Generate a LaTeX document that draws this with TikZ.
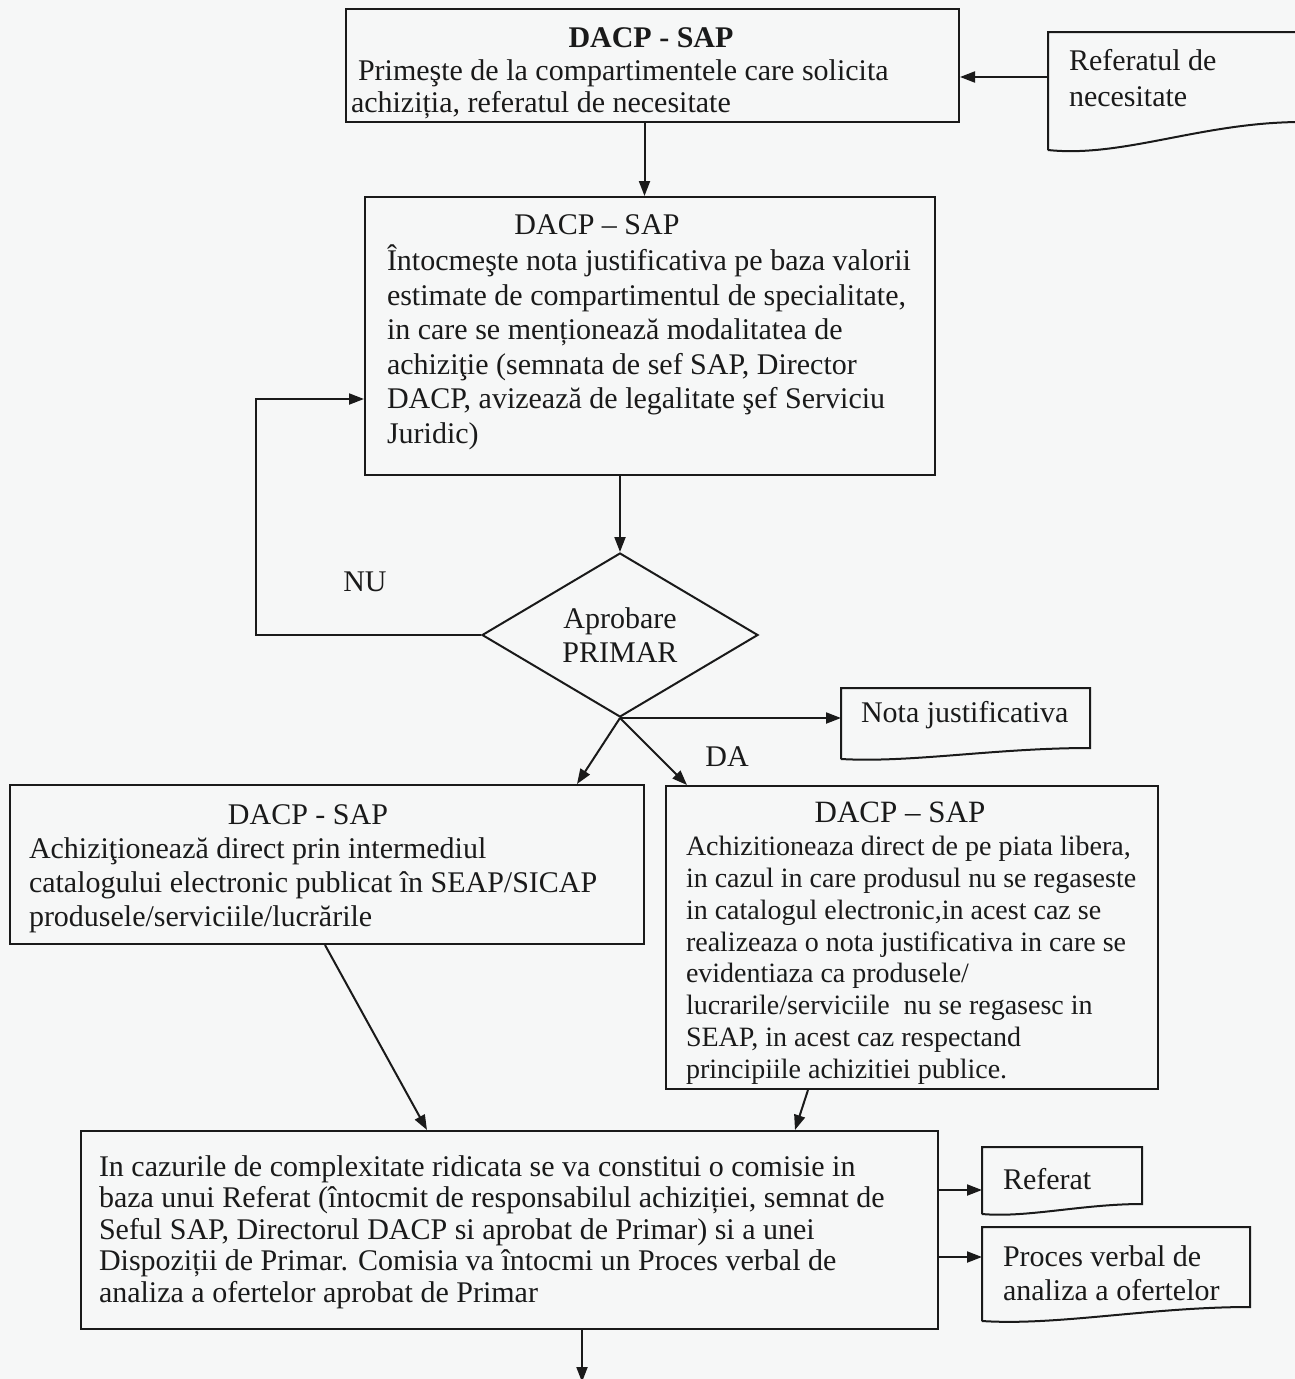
\documentclass[tikz,border=0pt]{standalone}
\usepackage{fontspec}
\setmainfont{Liberation Serif}
\usetikzlibrary{shapes.geometric,arrows.meta,calc}
\definecolor{ink}{HTML}{1A1A1A}
\definecolor{paper}{HTML}{F6F7F7}

\begin{document}
\begin{tikzpicture}[x=1pt,y=-1pt,color=ink,line width=2pt,
  box/.style={draw,rectangle,inner sep=0pt,anchor=north west},
  doc/.style={rectangle,inner sep=0pt,anchor=north west},
  txt/.style={anchor=north west,inner sep=0pt,align=left,font=\fontsize{30}{34.5}\selectfont},
  ttl/.style={anchor=north,inner sep=0pt,font=\fontsize{30}{34.5}\selectfont},
  lbl/.style={inner sep=0pt,font=\fontsize{30}{34}\selectfont},
  arr/.style={-{Triangle[length=15pt,width=11pt]}}]

% page
\fill[paper] (0,0) rectangle (1295,1379);
\useasboundingbox (0,0) rectangle (1295,1379);

% ---------- request received ----------
\node[box,minimum width=613pt,minimum height=113pt] (recv) at (345,8) {};
\node[ttl,font=\bfseries\fontsize{30}{34.5}\selectfont] (recvttl) at (651,22) {\strut DACP - SAP};
\node[txt,font=\fontsize{30}{32}\selectfont] (recvtxt) at (350,57)
  {\strut\hspace{7pt}Primeşte de la compartimentele care solicita\\
   \strut achiziția, referatul de necesitate};

% incoming document
\node[doc,minimum width=252pt,minimum height=116pt] (refn) at (1048,32) {};
\draw (refn.south west) -- (refn.north west) -- (refn.north east)
  -- ([yshift=28pt]refn.south east)
  .. controls +(-100pt,0pt) and +(75pt,-8pt) .. (refn.south west);
\node[txt,font=\fontsize{30}{36}\selectfont] (refntxt) at (1068,44)
  {\strut Referatul de\\\strut necesitate};

% ---------- justification note ----------
\node[box,minimum width=570pt,minimum height=278pt] (just) at (364,196) {};
\node[ttl] (justttl) at (597,209) {\strut DACP – SAP};
\node[txt] (justtxt) at (386,244)
  {\strut Întocmeşte nota justificativa pe baza valorii\\
   \strut estimate de compartimentul de specialitate,\\
   \strut in care se menționează modalitatea de\\
   \strut achiziţie (semnata de sef SAP, Director\\
   \strut DACP, avizează de legalitate şef Serviciu\\
   \strut Juridic)};

% ---------- approval ----------
\node[diamond,draw,minimum width=276pt,minimum height=164pt,inner sep=0pt] (appr) at (620,635) {};
\node[lbl,align=center,font=\fontsize{30}{34}\selectfont] (apprtxt) at (620,639)
  {\strut Aprobare\\\strut PRIMAR};
\node[lbl] (nu) at (365,582) {NU};
\node[lbl] (da) at (727,757) {DA};

% output document of the approval
\node[doc,minimum width=247pt,minimum height=69pt] (nota) at (841,688) {};
\draw (nota.south west) -- (nota.north west) -- (nota.north east)
  -- ([yshift=11pt]nota.south east)
  .. controls +(-95pt,0pt) and +(70pt,-4pt) .. (nota.south west);
\node[txt] (notatxt) at (860,697) {\strut Nota justificativa};

% ---------- direct purchase from catalogue ----------
\node[box,minimum width=634pt,minimum height=159pt] (cat) at (9,784) {};
\node[ttl] (catttl) at (308,799) {\strut DACP - SAP};
\node[txt,font=\fontsize{30}{34}\selectfont] (cattxt) at (28,834)
  {\strut Achiziţionează direct prin intermediul\\
   \strut catalogului electronic publicat în SEAP/SICAP\\
   \strut produsele/serviciile/lucrările};

% ---------- direct purchase on the free market ----------
\node[box,minimum width=492pt,minimum height=303pt] (mkt) at (665,785) {};
\node[ttl,font=\fontsize{31}{35}\selectfont] (mktttl) at (900,797) {\strut DACP – SAP};
\node[txt,font=\fontsize{28}{31.8}\selectfont] (mkttxt) at (685,832.5)
  {\strut Achizitioneaza direct de pe piata libera,\\
   \strut in cazul in care produsul nu se regaseste\\
   \strut in catalogul electronic,in acest caz se\\
   \strut realizeaza o nota justificativa in care se\\
   \strut evidentiaza ca produsele/\\
   \strut lucrarile/serviciile\ \ nu se regasesc in\\
   \strut SEAP, in acest caz respectand\\
   \strut principiile achizitiei publice.};

% ---------- evaluation committee ----------
\node[box,minimum width=857pt,minimum height=198pt] (comm) at (80,1130) {};
\node[txt,font=\fontsize{30}{31.5}\selectfont] (commtxt) at (98,1153)
  {\strut In cazurile de complexitate ridicata se va constitui o comisie in\\
   \strut baza unui Referat (întocmit de responsabilul achiziției, semnat de\\
   \strut Seful SAP, Directorul DACP si aprobat de Primar) si a unei\\
   \strut Dispoziții de Primar. Comisia va întocmi un Proces verbal de\\
   \strut analiza a ofertelor aprobat de Primar};

% output documents of the committee
\node[doc,minimum width=158pt,minimum height=65pt] (refr) at (982,1147) {};
\draw (refr.south west) -- (refr.north west) -- (refr.north east)
  -- ([yshift=10pt]refr.south east)
  .. controls +(-60pt,0pt) and +(45pt,-4pt) .. (refr.south west);
\node[txt] (refrtxt) at (1002,1164) {\strut Referat};

\node[doc,minimum width=266pt,minimum height=92pt] (pv) at (982,1227) {};
\draw (pv.south west) -- (pv.north west) -- (pv.north east)
  -- ([yshift=14pt]pv.south east)
  .. controls +(-100pt,0pt) and +(75pt,-5pt) .. (pv.south west);
\node[txt] (pvtxt) at (1002,1241)
  {\strut Proces verbal de\\\strut analiza a ofertelor};

% ---------- connectors ----------
\coordinate (refnin) at ([yshift=-45pt]refn.north west);
\draw[arr] (refnin) -- (refnin -| recv.east);

\coordinate (recvout) at ([xshift=-8pt]recv.south);
\draw[arr] (recvout) -- (recvout |- just.north);

\draw[arr] (appr.north |- just.south) -- (appr.north);

\coordinate (justin) at ([yshift=-63pt]just.west);
\draw[arr] (appr.west) -- ++(-225pt,0pt) |- (justin);

\draw[arr] (appr.south) -- (appr.south -| nota.west);
\draw[arr] (appr.south) -- ([xshift=-68pt]cat.north east);
\draw[arr] (appr.south) -- ([xshift=22pt]mkt.north west);

\draw[arr] ([xshift=316pt]cat.south west) -- ([xshift=347pt]comm.north west);
\draw[arr] ([xshift=143pt]mkt.south west) -- ([xshift=715pt]comm.north west);

\coordinate (refrin) at ([yshift=-43pt]refr.north west);
\draw[arr] (refrin -| comm.east) -- (refrin);
\coordinate (pvin) at ([yshift=-30pt]pv.north west);
\draw[arr] (pvin -| comm.east) -- (pvin);

\coordinate (nextstep) at (582,1382);
\draw[arr] (nextstep |- comm.south) -- (nextstep);

\end{tikzpicture}
\end{document}
